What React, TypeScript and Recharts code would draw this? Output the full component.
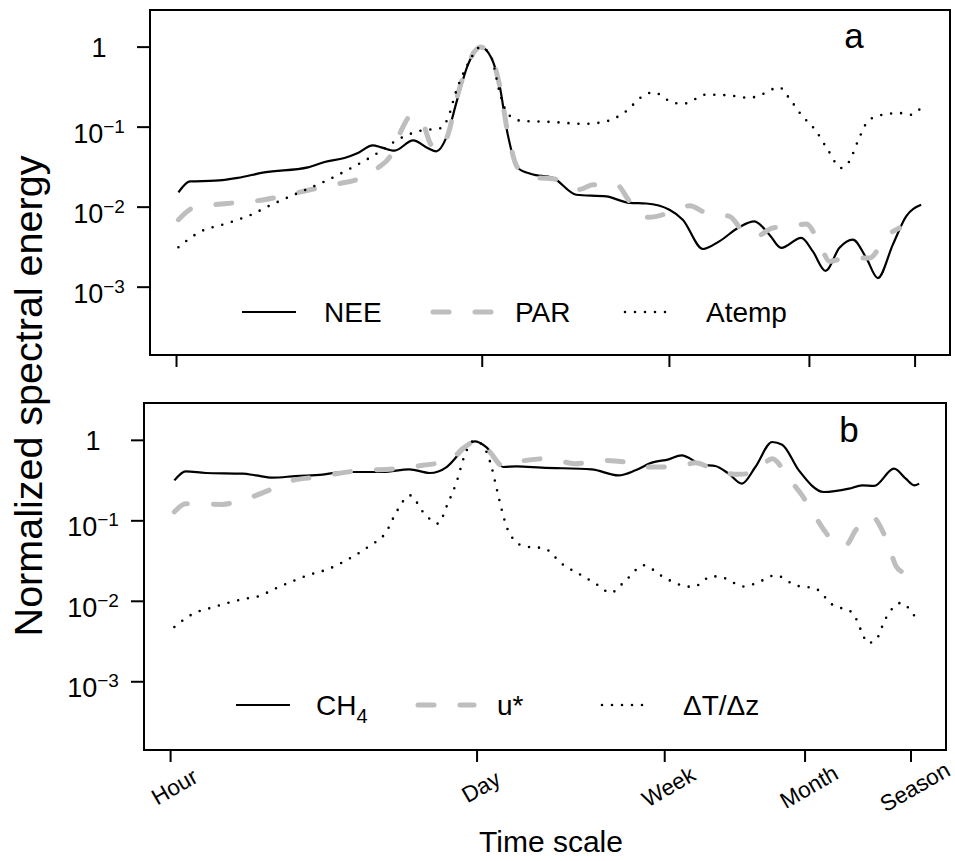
import React from 'react';
import { LineChart, Line, XAxis, YAxis, ReferenceArea } from 'recharts';

const FONT = '"Liberation Sans", Arial, Helvetica, sans-serif';
const GRAY = '#bebebe';

// ---- axes ----
const timeTickHours = [1, 24, 168, 720, 2160];
const timeTickLabels = ['Hour', 'Day', 'Week', 'Month', 'Season'];
const energyTicks = [0.001, 0.01, 0.1, 1];
const X_DOMAIN: [number, number] = [0.759, 3105];
const Y_DOMAIN: [number, number] = [1.42e-4, 2.91];

// ---- panel a ----
const neeHours = [1.02, 1.15, 1.49, 1.89, 2.49, 3.92, 4.66, 5.73, 6.59, 7.69, 8.39, 9.64, 11.7, 13.6, 14.9, 16.5, 18.6, 20.7, 23.6, 26.4, 28.7, 31.3, 34.8, 39.9, 50.0, 63.8, 87.1, 111, 132, 168, 193, 238, 282, 348, 406, 475, 537, 661, 746, 851, 984, 1130, 1300, 1466, 1714, 1968, 2301];
const neeEnergy = [0.0153, 0.021, 0.0214, 0.0232, 0.0272, 0.0314, 0.0367, 0.0412, 0.0476, 0.0592, 0.0559, 0.0508, 0.0684, 0.055, 0.0498, 0.0733, 0.232, 0.604, 1.0, 0.733, 0.34, 0.0806, 0.0309, 0.026, 0.0232, 0.0143, 0.0136, 0.0113, 0.0111, 0.0093, 0.00698, 0.003, 0.00374, 0.00565, 0.00664, 0.00453, 0.00309, 0.00412, 0.0028, 0.0016, 0.0031, 0.00393, 0.00232, 0.0013, 0.0034, 0.00767, 0.0107];

const parHours = [1.02, 1.21, 1.65, 2.49, 4.06, 5.35, 6.82, 8.11, 9.31, 10.3, 11.5, 12.9, 14.1, 15.4, 16.8, 18.6, 20.7, 23.6, 26.4, 28.7, 31.3, 34.8, 42.8, 50.0, 65.9, 75.9, 96.6, 111, 132, 147, 174, 207, 246, 314, 361, 414, 492, 605, 697, 815, 887, 1054, 1346, 1600, 1837];
const parEnergy = [0.00698, 0.01, 0.011, 0.0124, 0.0166, 0.0195, 0.0232, 0.031, 0.0453, 0.0887, 0.14, 0.113, 0.0604, 0.0523, 0.0806, 0.255, 0.62, 1.0, 0.74, 0.34, 0.085, 0.0309, 0.0232, 0.0227, 0.0166, 0.0191, 0.0191, 0.0118, 0.00746, 0.00767, 0.00887, 0.0104, 0.00846, 0.00767, 0.00499, 0.00431, 0.0055, 0.00575, 0.00617, 0.0031, 0.0021, 0.00232, 0.00232, 0.00431, 0.0055];

const atempHours = [1.02, 1.25, 1.71, 2.14, 2.68, 3.53, 4.5, 6.15, 8.11, 9.98, 12.3, 15.7, 16.8, 18.3, 20.7, 23.6, 26.4, 28.7, 31.3, 36.0, 49.2, 69.5, 87.1, 107, 127, 142, 177, 196, 246, 308, 386, 437, 527, 575, 661, 773, 871, 1002, 1091, 1191, 1321, 1493, 1837, 2075, 2259];
const atempEnergy = [0.00315, 0.00476, 0.00634, 0.0079, 0.0107, 0.015, 0.02, 0.0309, 0.0476, 0.0698, 0.0887, 0.0977, 0.13, 0.28, 0.62, 1.0, 0.74, 0.28, 0.146, 0.12, 0.116, 0.11, 0.118, 0.158, 0.243, 0.272, 0.2, 0.197, 0.255, 0.25, 0.232, 0.255, 0.315, 0.243, 0.143, 0.0887, 0.0523, 0.0309, 0.0374, 0.0665, 0.118, 0.14, 0.15, 0.143, 0.166];

// ---- panel b ----
const ch4Hours = [1.04, 1.17, 1.44, 2.11, 2.42, 2.88, 3.66, 4.84, 5.96, 9.04, 11.9, 14.7, 17.5, 20.0, 23.4, 26.4, 31.5, 36.1, 46.8, 78.7, 104, 124, 147, 175, 200, 247, 284, 326, 374, 430, 512, 568, 675, 875, 1135, 1303, 1472, 1811, 2046, 2234, 2350];
const ch4Energy = [0.318, 0.412, 0.393, 0.385, 0.367, 0.344, 0.36, 0.375, 0.404, 0.404, 0.436, 0.393, 0.466, 0.683, 0.972, 0.826, 0.466, 0.475, 0.458, 0.436, 0.367, 0.424, 0.528, 0.581, 0.651, 0.499, 0.48, 0.385, 0.29, 0.466, 0.953, 0.883, 0.424, 0.228, 0.251, 0.276, 0.271, 0.445, 0.334, 0.276, 0.29];

const ustarHours = [1.04, 1.17, 1.71, 1.96, 2.69, 3.42, 4.52, 6.84, 10.4, 13.7, 18.1, 20.7, 24.3, 27.4, 31.5, 37.4, 50.1, 66.2, 87.3, 111, 132, 157, 200, 231, 284, 361, 430, 512, 608, 698, 802, 889, 989, 1096, 1216, 1445, 1603, 1750, 1841, 1977];
const ustarEnergy = [0.129, 0.163, 0.16, 0.171, 0.232, 0.31, 0.35, 0.416, 0.445, 0.489, 0.565, 0.789, 1.0, 0.716, 0.475, 0.548, 0.592, 0.513, 0.565, 0.538, 0.466, 0.466, 0.48, 0.528, 0.424, 0.378, 0.404, 0.592, 0.334, 0.207, 0.112, 0.0726, 0.052, 0.0496, 0.0762, 0.112, 0.0762, 0.041, 0.028, 0.0231];

const dtdzHours = [1.04, 1.25, 1.57, 2.18, 2.42, 3.03, 4.14, 5.19, 6.38, 7.85, 9.35, 10.4, 12.0, 13.7, 16.0, 17.7, 19.4, 21.1, 23.4, 26.0, 27.9, 29.3, 30.9, 33.1, 38.7, 48.4, 57.7, 71.0, 85.9, 95.3, 113, 135, 163, 200, 226, 274, 310, 381, 430, 530, 652, 802, 955, 1175, 1303, 1374, 1496, 1660, 1941, 2118, 2270];
const dtdzEnergy = [0.0048, 0.0069, 0.0085, 0.0108, 0.0113, 0.0148, 0.021, 0.0255, 0.0339, 0.0486, 0.0726, 0.129, 0.207, 0.129, 0.0923, 0.163, 0.303, 0.651, 1.0, 0.789, 0.466, 0.263, 0.142, 0.0762, 0.0486, 0.0452, 0.0294, 0.021, 0.0153, 0.0127, 0.0186, 0.028, 0.0206, 0.0158, 0.0151, 0.0205, 0.0195, 0.0153, 0.0166, 0.021, 0.0158, 0.0144, 0.0091, 0.00723, 0.00404, 0.00303, 0.00328, 0.0061, 0.00953, 0.0081, 0.0062];

const zip = (h: number[], v: number[]) => h.map((x, i) => ({ h: x, v: v[i] }));

type Kind = 'solid' | 'dashed' | 'dotted';
const styleOf = (k: Kind) => {
  if (k === 'solid') return { stroke: '#000', strokeWidth: 2.2 };
  if (k === 'dashed') return { stroke: GRAY, strokeWidth: 5, strokeDasharray: '16 26', strokeLinecap: 'round' as const };
  return { stroke: '#000', strokeWidth: 2.6, strokeDasharray: '0 10', strokeLinecap: 'round' as const };
};

const panelA = [
  { name: 'NEE', kind: 'solid' as Kind, data: zip(neeHours, neeEnergy) },
  { name: 'PAR', kind: 'dashed' as Kind, data: zip(parHours, parEnergy) },
  { name: 'Atemp', kind: 'dotted' as Kind, data: zip(atempHours, atempEnergy) },
];
const panelB = [
  { name: 'CH4', kind: 'solid' as Kind, data: zip(ch4Hours, ch4Energy) },
  { name: 'u*', kind: 'dashed' as Kind, data: zip(ustarHours, ustarEnergy) },
  { name: '\u0394T/\u0394z', kind: 'dotted' as Kind, data: zip(dtdzHours, dtdzEnergy) },
];

const EnergyTick = (props: any) => {
  const { x, y, payload } = props;
  const exp = Math.round(Math.log10(payload.value));
  const cx = x - 38;
  if (exp === 0) {
    return (
      <text x={cx} y={y + 10} textAnchor="middle" fontSize={27} fontFamily={FONT} fill="#000">1</text>
    );
  }
  return (
    <text x={cx} y={y + 15.5} textAnchor="middle" fontSize={27} fontFamily={FONT} fill="#000">
      <tspan>10</tspan>
      <tspan dy={-10} fontSize={19}>{'\u2212' + String(-exp)}</tspan>
    </text>
  );
};

const EmptyTick = () => <g />;

const TimeTick = (props: any) => {
  const { x, y, payload } = props;
  const label = timeTickLabels[timeTickHours.indexOf(payload.value)];
  const cx = x + 4;
  const cy = y + 25;
  return (
    <text x={cx} y={cy} transform={`rotate(-30 ${cx} ${cy})`} textAnchor="middle" dominantBaseline="central" fontSize={22.5} fontFamily={FONT} fill="#000">
      {label}
    </text>
  );
};

const renderLines = (series: typeof panelA) =>
  series.map((s) => (
    <Line
      key={s.name}
      data={s.data}
      dataKey="v"
      type="monotone"
      dot={false}
      activeDot={false}
      isAnimationActive={false}
      {...styleOf(s.kind)}
    />
  ));

const Panel = ({ series, height, margin, yWidth, xHeight, showLabels }: any) => (
  <LineChart width={955} height={height} margin={margin}>
    <XAxis
      dataKey="h"
      type="number"
      scale="log"
      domain={X_DOMAIN}
      allowDataOverflow
      ticks={timeTickHours}
      tick={showLabels ? <TimeTick /> : <EmptyTick />}
      tickSize={12}
      tickMargin={0}
      tickLine={{ stroke: '#000', strokeWidth: 2 }}
      axisLine={false}
      height={xHeight}
    />
    <YAxis
      type="number"
      scale="log"
      domain={Y_DOMAIN}
      allowDataOverflow
      ticks={energyTicks}
      tick={<EnergyTick />}
      tickSize={13}
      tickMargin={0}
      tickLine={{ stroke: '#000', strokeWidth: 2 }}
      axisLine={false}
      width={yWidth}
    />
    {renderLines(series)}
    <ReferenceArea x1={X_DOMAIN[0]} x2={X_DOMAIN[1]} y1={Y_DOMAIN[0]} y2={Y_DOMAIN[1]} fill="none" fillOpacity={0} stroke="#000" strokeWidth={2} ifOverflow="visible" />
  </LineChart>
);

const legendA = [
  { x0: 242, x1: 296, tx: 324 },
  { x0: 433, x1: 492, tx: 515 },
  { x0: 625, x1: 673, tx: 706 },
];
const legendB = [
  { x0: 236, x1: 290, tx: 316 },
  { x0: 418, x1: 474, tx: 497 },
  { x0: 602, x1: 650, tx: 683 },
];

const LegendRow = ({ series, pos, cy }: any) => (
  <g>
    {series.map((s: any, i: number) => {
      const p = pos[i];
      const label =
        s.name === 'CH4' ? (
          <>
            <tspan>CH</tspan>
            <tspan fontSize={20} dy={8}>4</tspan>
          </>
        ) : (
          s.name
        );
      return (
        <g key={s.name}>
          <line x1={p.x0} x2={p.x1} y1={cy} y2={cy} {...styleOf(s.kind)} />
          <text x={p.tx} y={cy + 10} fontSize={28} fontFamily={FONT} fill="#000">{label}</text>
        </g>
      );
    })}
  </g>
);

export default function App() {
  return (
    <div style={{ position: 'absolute', left: 0, top: 0, width: 955, height: 861, background: '#fff', fontFamily: FONT, overflow: 'hidden' }}>
      <div style={{ position: 'absolute', left: 0, top: 0 }}>
        <Panel series={panelA} height={380} margin={{ top: 10, right: 5, bottom: 0, left: 0 }} yWidth={150} xHeight={25} showLabels={false} />
      </div>
      <div style={{ position: 'absolute', left: 0, top: 380 }}>
        <Panel series={panelB} height={481} margin={{ top: 23, right: 9, bottom: 0, left: 0 }} yWidth={144} xHeight={111} showLabels={true} />
      </div>
      <svg width={955} height={861} style={{ position: 'absolute', left: 0, top: 0, pointerEvents: 'none' }}>
        <text transform="rotate(-90)" x={-396} y={42} textAnchor="middle" fontSize={39.5} fontFamily={FONT} fill="#000">
          Normalized spectral energy
        </text>
        <text x={551} y={852} textAnchor="middle" fontSize={30} fontFamily={FONT} fill="#000">Time scale</text>
        <text x={854} y={48} textAnchor="middle" fontSize={35} fontFamily={FONT} fill="#000">a</text>
        <text x={849} y={442} textAnchor="middle" fontSize={35} fontFamily={FONT} fill="#000">b</text>
        <LegendRow series={panelA} pos={legendA} cy={312} />
        <LegendRow series={panelB} pos={legendB} cy={705} />
      </svg>
    </div>
  );
}
